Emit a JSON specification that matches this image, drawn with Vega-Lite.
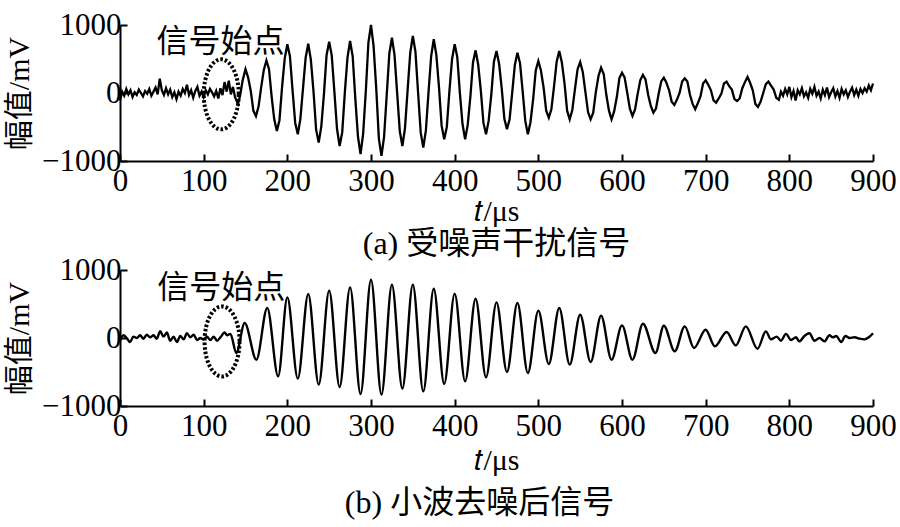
{
  "$schema": "https://vega.github.io/schema/vega-lite/v6.json",
  "padding": {"left": 4, "top": 9, "right": 6, "bottom": 4},
  "spacing": -6,
  "config": {
    "view": {"stroke": null},
    "font": "Liberation Serif, Noto Sans CJK SC",
    "axis": {
      "grid": false,
      "domainColor": "black",
      "domainWidth": 2,
      "tickColor": "black",
      "tickWidth": 2,
      "tickSize": -7,
      "labelFont": "Liberation Serif",
      "labelFontSize": 31,
      "labelColor": "black",
      "labelOverlap": false,
      "labelFlush": false,
      "labelBound": false,
      "titleFont": "Liberation Serif, Noto Sans CJK SC",
      "titleFontSize": 30,
      "titleFontWeight": "normal",
      "titleColor": "black"
    },
    "title": {"font": "Liberation Serif, Noto Sans CJK SC", "fontSize": 32, "fontWeight": "normal", "color": "black", "orient": "bottom", "anchor": "middle"}
  },
  "datasets": {
    "noisy": [
      {"t":0,"v":-110},{"t":2.5,"v":20},{"t":5,"v":-40},{"t":7.5,"v":60},{"t":10,"v":-20},{"t":12.5,"v":40},{"t":15,"v":-60},{"t":17.5,"v":10},{"t":20,"v":-30},{"t":22.5,"v":50},
      {"t":25,"v":0},{"t":27.5,"v":-50},{"t":30,"v":30},{"t":32.5,"v":-10},{"t":35,"v":60},{"t":37.5,"v":-40},{"t":40,"v":20},{"t":42.5,"v":80},{"t":45,"v":-20},{"t":47.5,"v":210},
      {"t":50,"v":40},{"t":52.5,"v":-30},{"t":55,"v":70},{"t":57.5,"v":-20},{"t":60,"v":50},{"t":62.5,"v":-60},{"t":65,"v":10},{"t":67.5,"v":-90},{"t":70,"v":20},{"t":72.5,"v":-40},
      {"t":75,"v":60},{"t":77.5,"v":0},{"t":80,"v":120},{"t":82.5,"v":-30},{"t":85,"v":40},{"t":87.5,"v":-70},{"t":90,"v":30},{"t":92.5,"v":90},{"t":95,"v":-40},{"t":97.5,"v":20},
      {"t":100,"v":-60},{"t":102.5,"v":40},{"t":105,"v":-20},{"t":107.5,"v":60},{"t":110,"v":10},{"t":112.5,"v":-50},{"t":115,"v":30},{"t":117.5,"v":-80},{"t":120,"v":70},{"t":122.5,"v":-30},
      {"t":125,"v":160},{"t":127.5,"v":20},{"t":130,"v":180},{"t":132.5,"v":-20},{"t":135,"v":90},{"t":137.5,"v":-60},{"t":141,"v":-160},{"t":143.5,"v":-40},{"t":146.5,"v":180},{"t":150,"v":350},
      {"t":153.1,"v":230},{"t":156.3,"v":30},{"t":159.4,"v":-260},{"t":162.5,"v":-340},
      {"t":165.6,"v":-200},{"t":168.8,"v":90},{"t":171.9,"v":340},{"t":175,"v":480},
      {"t":178.1,"v":350},{"t":181.3,"v":-60},{"t":184.4,"v":-390},{"t":187.5,"v":-560},
      {"t":190.6,"v":-400},{"t":193.8,"v":100},{"t":196.9,"v":510},{"t":200,"v":716},
      {"t":203.1,"v":540},{"t":206.3,"v":30},{"t":209.4,"v":-440},{"t":212.5,"v":-608},
      {"t":215.6,"v":-380},{"t":218.8,"v":80},{"t":221.9,"v":520},{"t":225,"v":725},
      {"t":228.1,"v":490},{"t":231.3,"v":20},{"t":234.4,"v":-540},{"t":237.5,"v":-730},
      {"t":240.6,"v":-490},{"t":243.8,"v":-10},{"t":246.9,"v":560},{"t":250,"v":755},
      {"t":253.1,"v":550},{"t":256.3,"v":10},{"t":259.4,"v":-530},{"t":262.5,"v":-780},
      {"t":265.6,"v":-580},{"t":268.8,"v":20},{"t":271.9,"v":520},{"t":275,"v":765},
      {"t":278.1,"v":540},{"t":281.3,"v":-90},{"t":284.4,"v":-640},{"t":287.5,"v":-900},
      {"t":290.6,"v":-600},{"t":293.8,"v":30},{"t":296.9,"v":740},{"t":300,"v":1000},
      {"t":303.1,"v":690},{"t":306.3,"v":60},{"t":309.4,"v":-670},{"t":312.5,"v":-925},
      {"t":315.6,"v":-650},{"t":318.8,"v":-30},{"t":321.9,"v":580},{"t":325,"v":813},
      {"t":328.1,"v":560},{"t":331.3,"v":-10},{"t":334.4,"v":-560},{"t":337.5,"v":-780},
      {"t":340.6,"v":-520},{"t":343.8,"v":50},{"t":346.9,"v":590},{"t":350,"v":838},
      {"t":353.1,"v":610},{"t":356.3,"v":0},{"t":359.4,"v":-580},{"t":362.5,"v":-804},
      {"t":365.6,"v":-550},{"t":368.8,"v":20},{"t":371.9,"v":540},{"t":375,"v":790},
      {"t":378.1,"v":560},{"t":381.3,"v":80},{"t":384.4,"v":-480},{"t":387.5,"v":-680},
      {"t":390.6,"v":-500},{"t":393.8,"v":40},{"t":396.9,"v":500},{"t":400,"v":716},
      {"t":403.1,"v":530},{"t":406.3,"v":-10},{"t":409.4,"v":-460},{"t":412.5,"v":-680},
      {"t":415.6,"v":-470},{"t":418.8,"v":-50},{"t":421.9,"v":450},{"t":425,"v":627},
      {"t":428.1,"v":420},{"t":431.3,"v":30},{"t":434.4,"v":-440},{"t":437.5,"v":-608},
      {"t":440.6,"v":-410},{"t":443.8,"v":-20},{"t":446.9,"v":460},{"t":450,"v":618},
      {"t":453.1,"v":430},{"t":456.3,"v":60},{"t":459.4,"v":-380},{"t":462.5,"v":-534},
      {"t":465.6,"v":-390},{"t":468.8,"v":10},{"t":471.9,"v":410},{"t":475,"v":593},
      {"t":478.1,"v":440},{"t":481.3,"v":20},{"t":484.4,"v":-410},{"t":487.5,"v":-608},
      {"t":490.6,"v":-430},{"t":493.8,"v":-90},{"t":496.9,"v":330},{"t":500,"v":470},
      {"t":503.1,"v":330},{"t":506.3,"v":80},{"t":509.4,"v":-260},{"t":512.5,"v":-363},
      {"t":515.6,"v":-240},{"t":518.8,"v":100},{"t":521.9,"v":460},{"t":525,"v":618},
      {"t":528.1,"v":450},{"t":531.3,"v":140},{"t":534.4,"v":-260},{"t":537.5,"v":-387},
      {"t":540.6,"v":-250},{"t":543.8,"v":60},{"t":546.9,"v":350},{"t":550,"v":455},
      {"t":553.1,"v":310},{"t":556.3,"v":10},{"t":559.4,"v":-280},{"t":562.5,"v":-387},
      {"t":565.6,"v":-290},{"t":568.8,"v":20},{"t":571.9,"v":250},{"t":575,"v":373},
      {"t":578.1,"v":280},{"t":581.3,"v":-30},{"t":584.4,"v":-260},{"t":587.5,"v":-387},
      {"t":590.6,"v":-270},{"t":593.8,"v":-60},{"t":596.9,"v":220},{"t":600,"v":299},
      {"t":603.1,"v":230},{"t":606.3,"v":0},{"t":609.4,"v":-230},{"t":612.5,"v":-338},
      {"t":615.6,"v":-240},{"t":618.8,"v":-10},{"t":621.9,"v":190},{"t":625,"v":265},
      {"t":628.1,"v":200},{"t":631.3,"v":-30},{"t":634.4,"v":-190},{"t":637.5,"v":-290},
      {"t":640.6,"v":-230},{"t":643.8,"v":-10},{"t":646.9,"v":170},{"t":650,"v":225},
      {"t":653.1,"v":150},{"t":656.3,"v":40},{"t":659.4,"v":-130},{"t":662.5,"v":-176},
      {"t":665.6,"v":-100},{"t":668.8,"v":0},{"t":671.9,"v":170},{"t":675,"v":216},
      {"t":678.1,"v":170},{"t":681.3,"v":-30},{"t":684.4,"v":-160},{"t":687.5,"v":-240},
      {"t":690.6,"v":-150},{"t":693.8,"v":-50},{"t":696.9,"v":140},{"t":700,"v":187},
      {"t":703.1,"v":120},{"t":706.3,"v":40},{"t":709.4,"v":-110},{"t":712.5,"v":-142},
      {"t":715.6,"v":-80},{"t":718.8,"v":-10},{"t":721.9,"v":140},{"t":725,"v":167},
      {"t":728.1,"v":100},{"t":731.3,"v":50},{"t":734.4,"v":-90},{"t":737.5,"v":-118},
      {"t":740.6,"v":-80},{"t":743.8,"v":70},{"t":746.9,"v":160},{"t":750,"v":235},
      {"t":753.1,"v":150},{"t":756.3,"v":40},{"t":759.4,"v":-160},{"t":762.5,"v":-206},
      {"t":765.6,"v":-130},{"t":768.8,"v":0},{"t":771.9,"v":130},{"t":775,"v":167},
      {"t":778.1,"v":110},{"t":781.3,"v":50},{"t":784.4,"v":-70},{"t":787.5,"v":-100},
      {"t":790,"v":20},{"t":792.5,"v":-40},{"t":795,"v":60},{"t":797.5,"v":-20},{"t":800,"v":90},{"t":802.5,"v":-60},{"t":805,"v":30},{"t":807.5,"v":-110},{"t":810,"v":40},
      {"t":812.5,"v":-20},{"t":815,"v":70},{"t":817.5,"v":-50},{"t":820,"v":10},{"t":822.5,"v":-70},{"t":825,"v":60},{"t":827.5,"v":-10},{"t":830,"v":90},{"t":832.5,"v":-40},
      {"t":835,"v":20},{"t":837.5,"v":-80},{"t":840,"v":50},{"t":842.5,"v":-30},{"t":845,"v":80},{"t":847.5,"v":-60},{"t":850,"v":10},{"t":852.5,"v":70},{"t":855,"v":-50},
      {"t":857.5,"v":30},{"t":860,"v":-70},{"t":862.5,"v":60},{"t":865,"v":-20},{"t":867.5,"v":40},{"t":870,"v":-60},{"t":872.5,"v":20},{"t":875,"v":80},{"t":877.5,"v":-30},
      {"t":880,"v":50},{"t":882.5,"v":-40},{"t":885,"v":60},{"t":887.5,"v":0},{"t":890,"v":70},{"t":892.5,"v":20},{"t":895,"v":110},{"t":897.5,"v":40},{"t":900,"v":140}
    ],
    "clean": [
      {"t":0,"v":-40},{"t":4,"v":40},{"t":8,"v":0},{"t":12,"v":-60},{"t":16,"v":20},{"t":20,"v":0},{"t":24,"v":40},{"t":28,"v":-10},{"t":32,"v":50},{"t":36,"v":10},
      {"t":40,"v":40},{"t":44,"v":-10},{"t":48,"v":100},{"t":52,"v":20},{"t":56,"v":80},{"t":60,"v":-40},{"t":64,"v":20},{"t":68,"v":-60},{"t":72,"v":30},{"t":76,"v":-20},
      {"t":80,"v":70},{"t":84,"v":10},{"t":88,"v":50},{"t":92,"v":-30},{"t":96,"v":0},{"t":100,"v":-20},{"t":104,"v":20},{"t":108,"v":-30},{"t":112,"v":20},{"t":116,"v":-40},
      {"t":120,"v":10},{"t":125,"v":80},{"t":128,"v":40},{"t":132,"v":60},{"t":139,"v":-220},{"t":149,"v":220},{"t":163,"v":-319},{"t":176,"v":441},{"t":189,"v":-564},
      {"t":200,"v":597},{"t":212.5,"v":-598},{"t":225,"v":647},{"t":237.5,"v":-686},{"t":250,"v":696},{"t":262.5,"v":-721},{"t":275,"v":745},{"t":287.5,"v":-824},
      {"t":300,"v":857},{"t":312.5,"v":-833},{"t":325,"v":784},{"t":337.5,"v":-745},{"t":350,"v":784},{"t":362.5,"v":-785},{"t":375,"v":725},{"t":387.5,"v":-676},
      {"t":400,"v":652},{"t":412.5,"v":-637},{"t":425,"v":578},{"t":437.5,"v":-578},{"t":450,"v":524},{"t":462.5,"v":-500},{"t":475,"v":514},{"t":487.5,"v":-515},
      {"t":500,"v":402},{"t":512.5,"v":-382},{"t":525,"v":441},{"t":537.5,"v":-392},{"t":550,"v":343},{"t":562.5,"v":-353},{"t":575,"v":328},{"t":587.5,"v":-319},
      {"t":600,"v":186},{"t":612.5,"v":-319},{"t":625,"v":210},{"t":640,"v":-221},{"t":650,"v":181},{"t":663,"v":-196},{"t":675,"v":171},{"t":686,"v":-147},
      {"t":700,"v":122},{"t":711,"v":-123},{"t":725,"v":88},{"t":736,"v":-108},{"t":748,"v":171},{"t":762,"v":-157},{"t":772,"v":98},
      {"t":778,"v":-20},{"t":785,"v":20},{"t":790,"v":-40},{"t":796,"v":60},{"t":802,"v":-30},{"t":808,"v":10},{"t":812,"v":-50},{"t":818,"v":30},{"t":824,"v":70},
      {"t":830,"v":-40},{"t":836,"v":0},{"t":842,"v":-50},{"t":848,"v":40},{"t":852,"v":10},{"t":856,"v":30},{"t":862,"v":-60},{"t":867,"v":30},{"t":872,"v":0},
      {"t":878,"v":10},{"t":884,"v":-10},{"t":890,"v":-20},{"t":895,"v":10},{"t":900,"v":70}
    ]
  },
  "vconcat": [
    {
      "width": 753,
      "height": 136,
      "title": {"text": "(a) 受噪声干扰信号", "offset": 3},
      "layer": [
        {
          "data": {"name": "noisy"},
          "mark": {"type": "line", "color": "black", "strokeWidth": 2.3, "interpolate": "linear"},
          "encoding": {
            "x": {"field": "t", "type": "quantitative", "scale": {"domain": [0, 900], "nice": false},
                  "axis": {"values": [0,100,200,300,400,500,600,700,800,900], "title": "𝑡/μs", "labelPadding": 12, "titlePadding": 0}},
            "y": {"field": "v", "type": "quantitative", "scale": {"domain": [-1000, 1000], "nice": false},
                  "axis": {"values": [-1000,-500,0,500,1000], "format": "d", "title": "幅值/mV", "labelPadding": 6, "titlePadding": 7}}
          }
        },
        {
          "data": {"values": [{"t": 120, "v": 750, "label": "信号始点"}]},
          "mark": {"type": "text", "font": "Liberation Serif, Noto Sans CJK SC", "fontSize": 32, "color": "black", "align": "center", "baseline": "middle"},
          "encoding": {
            "x": {"field": "t", "type": "quantitative"},
            "y": {"field": "v", "type": "quantitative"},
            "text": {"field": "label"}
          }
        },
        {
          "data": {"values": [{"t": 121, "v": -20}]},
          "mark": {"type": "point", "shape": "M 0.5 0 C 0.5 0.5523 0.2761 1 0 1 C -0.2761 1 -0.5 0.5523 -0.5 0 C -0.5 -0.5523 -0.2761 -1 0 -1 C 0.2761 -1 0.5 -0.5523 0.5 0 Z", "size": 4900, "filled": false, "stroke": "black", "strokeWidth": 4, "strokeDash": [2.5, 2], "opacity": 1},
          "encoding": {
            "x": {"field": "t", "type": "quantitative"},
            "y": {"field": "v", "type": "quantitative"}
          }
        }
      ]
    },
    {
      "width": 753,
      "height": 136,
      "title": {"text": "(b) 小波去噪后信号", "offset": 13, "dx": -17},
      "layer": [
        {
          "data": {"name": "clean"},
          "mark": {"type": "line", "color": "black", "strokeWidth": 2.4, "interpolate": "monotone"},
          "encoding": {
            "x": {"field": "t", "type": "quantitative", "scale": {"domain": [0, 900], "nice": false},
                  "axis": {"values": [0,100,200,300,400,500,600,700,800,900], "title": "𝑡/μs", "labelPadding": 12, "titlePadding": 4}},
            "y": {"field": "v", "type": "quantitative", "scale": {"domain": [-1000, 1000], "nice": false},
                  "axis": {"values": [-1000,-500,0,500,1000], "format": "d", "title": "幅值/mV", "labelPadding": 6, "titlePadding": 7}}
          }
        },
        {
          "data": {"values": [{"t": 121, "v": 740, "label": "信号始点"}]},
          "mark": {"type": "text", "font": "Liberation Serif, Noto Sans CJK SC", "fontSize": 32, "color": "black", "align": "center", "baseline": "middle"},
          "encoding": {
            "x": {"field": "t", "type": "quantitative"},
            "y": {"field": "v", "type": "quantitative"},
            "text": {"field": "label"}
          }
        },
        {
          "data": {"values": [{"t": 122, "v": -50}]},
          "mark": {"type": "point", "shape": "M 0.5 0 C 0.5 0.5523 0.2761 1 0 1 C -0.2761 1 -0.5 0.5523 -0.5 0 C -0.5 -0.5523 -0.2761 -1 0 -1 C 0.2761 -1 0.5 -0.5523 0.5 0 Z", "size": 4900, "filled": false, "stroke": "black", "strokeWidth": 4, "strokeDash": [2.5, 2], "opacity": 1},
          "encoding": {
            "x": {"field": "t", "type": "quantitative"},
            "y": {"field": "v", "type": "quantitative"}
          }
        }
      ]
    }
  ]
}
